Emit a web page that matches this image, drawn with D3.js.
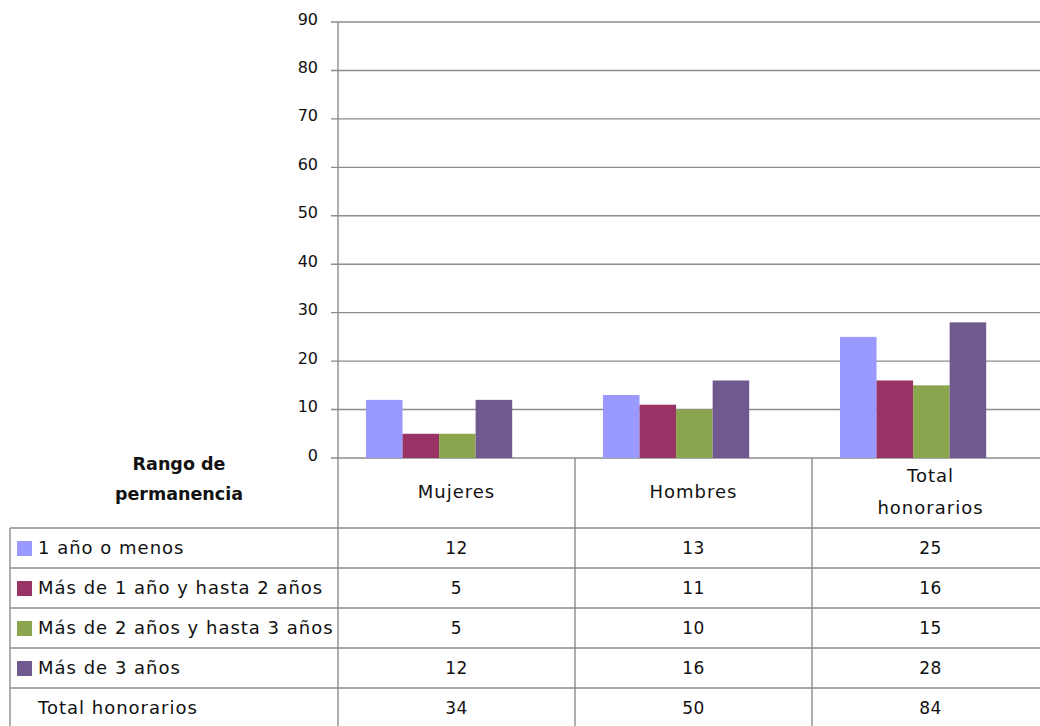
<!DOCTYPE html>
<html>
<head>
<meta charset="utf-8">
<script src="https://cdn.jsdelivr.net/npm/d3@7"></script>
<style>
  body { margin: 0; background: #fff; }
  svg text { font-family: "DejaVu Sans", sans-serif; fill: #111; }
</style>
</head>
<body>
<div id="chart"></div>
<script>
const categories = ["Mujeres", "Hombres", "Total honorarios"];
const series = ["1 año o menos", "Más de 1 año y hasta 2 años", "Más de 2 años y hasta 3 años", "Más de 3 años"];
const colors = ["#9999FF", "#993366", "#8AA54E", "#70598F"];
const values = [
  [12, 13, 25],
  [5, 11, 16],
  [5, 10, 15],
  [12, 16, 28]
];
const totals = [34, 50, 84];
const yTicks = [0, 10, 20, 30, 40, 50, 60, 70, 80, 90];

const width = 1040;
const height = 726;
const gridColor = "#8c8c8c";

const svg = d3.select("#chart").append("svg")
  .attr("width", width)
  .attr("height", height);

const x0 = 338, xEnd = 1049;
const y = d3.scaleLinear().domain([0, 90]).range([458, 22]);
const x = d3.scaleBand().domain(categories).range([x0, xEnd]).padding(0);
const bandW = x.bandwidth();
// bars sit a bit left of the column centre, like the original
const xs = d3.scaleBand().domain(d3.range(series.length))
  .range([bandW * 0.118, bandW * 0.118 + bandW * 0.617]).padding(0);

// gridlines + ticks
svg.append("g").selectAll("line").data(yTicks).join("line")
  .attr("x1", 331).attr("x2", width)
  .attr("y1", d => y(d)).attr("y2", d => y(d))
  .attr("stroke", gridColor).attr("stroke-width", 1.4);

svg.append("g").selectAll("text").data(yTicks).join("text")
  .attr("x", 318).attr("y", d => y(d) - 2)
  .attr("text-anchor", "end")
  .attr("dominant-baseline", "middle")
  .style("font-size", "16px")
  .text(d => d);

// bars
series.forEach((s, i) => {
  svg.append("g").selectAll("rect").data(values[i]).join("rect")
    .attr("x", (d, j) => x(categories[j]) + xs(i))
    .attr("y", d => y(d))
    .attr("width", xs.bandwidth())
    .attr("height", d => y(0) - y(d))
    .attr("fill", colors[i]);
});

// y axis line
svg.append("line")
  .attr("x1", x0).attr("x2", x0).attr("y1", y(90)).attr("y2", height)
  .attr("stroke", gridColor).attr("stroke-width", 1.4);

// data table
const headerTop = y(0);
const rowTop = 528;
const rowH = 40;
const rows = series.map((s, i) => ({ label: s, color: colors[i], vals: values[i] }))
  .concat([{ label: "Total honorarios", color: null, vals: totals }]);

svg.append("g").selectAll("line").data(categories.slice(1)).join("line")
  .attr("x1", d => x(d)).attr("x2", d => x(d))
  .attr("y1", headerTop).attr("y2", height)
  .attr("stroke", gridColor).attr("stroke-width", 1.4);

svg.append("line")
  .attr("x1", 10).attr("x2", 10).attr("y1", rowTop).attr("y2", height)
  .attr("stroke", gridColor).attr("stroke-width", 1.4);

svg.append("g").selectAll("line").data(d3.range(rows.length)).join("line")
  .attr("x1", 10).attr("x2", width)
  .attr("y1", i => rowTop + i * rowH).attr("y2", i => rowTop + i * rowH)
  .attr("stroke", gridColor).attr("stroke-width", 1.4);

// header
const header = svg.append("g");
categories.forEach(c => {
  const cx = x(c) + bandW / 2;
  const words = c === "Total honorarios" ? ["Total", "honorarios"] : [c];
  const t = header.append("text")
    .attr("text-anchor", "middle")
    .style("font-size", "18px")
    .style("letter-spacing", "1px");
  words.forEach((w, k) => {
    t.append("tspan").attr("x", cx)
      .attr("y", words.length === 1 ? 498 : 482 + k * 32)
      .text(w);
  });
});

const rango = header.append("text")
  .attr("text-anchor", "middle")
  .style("font-size", "17.5px")
  .style("font-weight", "bold");
rango.append("tspan").attr("x", 179).attr("y", 470).text("Rango de");
rango.append("tspan").attr("x", 179).attr("y", 500).text("permanencia");

// rows
rows.forEach((r, i) => {
  const ty = rowTop + i * rowH + rowH / 2;
  if (r.color) {
    svg.append("rect")
      .attr("x", 17).attr("y", ty - 7).attr("width", 15).attr("height", 15)
      .attr("fill", r.color);
  }
  svg.append("text")
    .attr("x", 38).attr("y", ty + 6)
    .style("font-size", "18px")
    .style("letter-spacing", "1px")
    .text(r.label);
  svg.append("g").selectAll("text").data(r.vals).join("text")
    .attr("x", (d, j) => x(categories[j]) + bandW / 2)
    .attr("y", ty + 6)
    .attr("text-anchor", "middle")
    .style("font-size", "17px")
    .style("letter-spacing", "0.5px")
    .text(d => d);
});
</script>
</body>
</html>
